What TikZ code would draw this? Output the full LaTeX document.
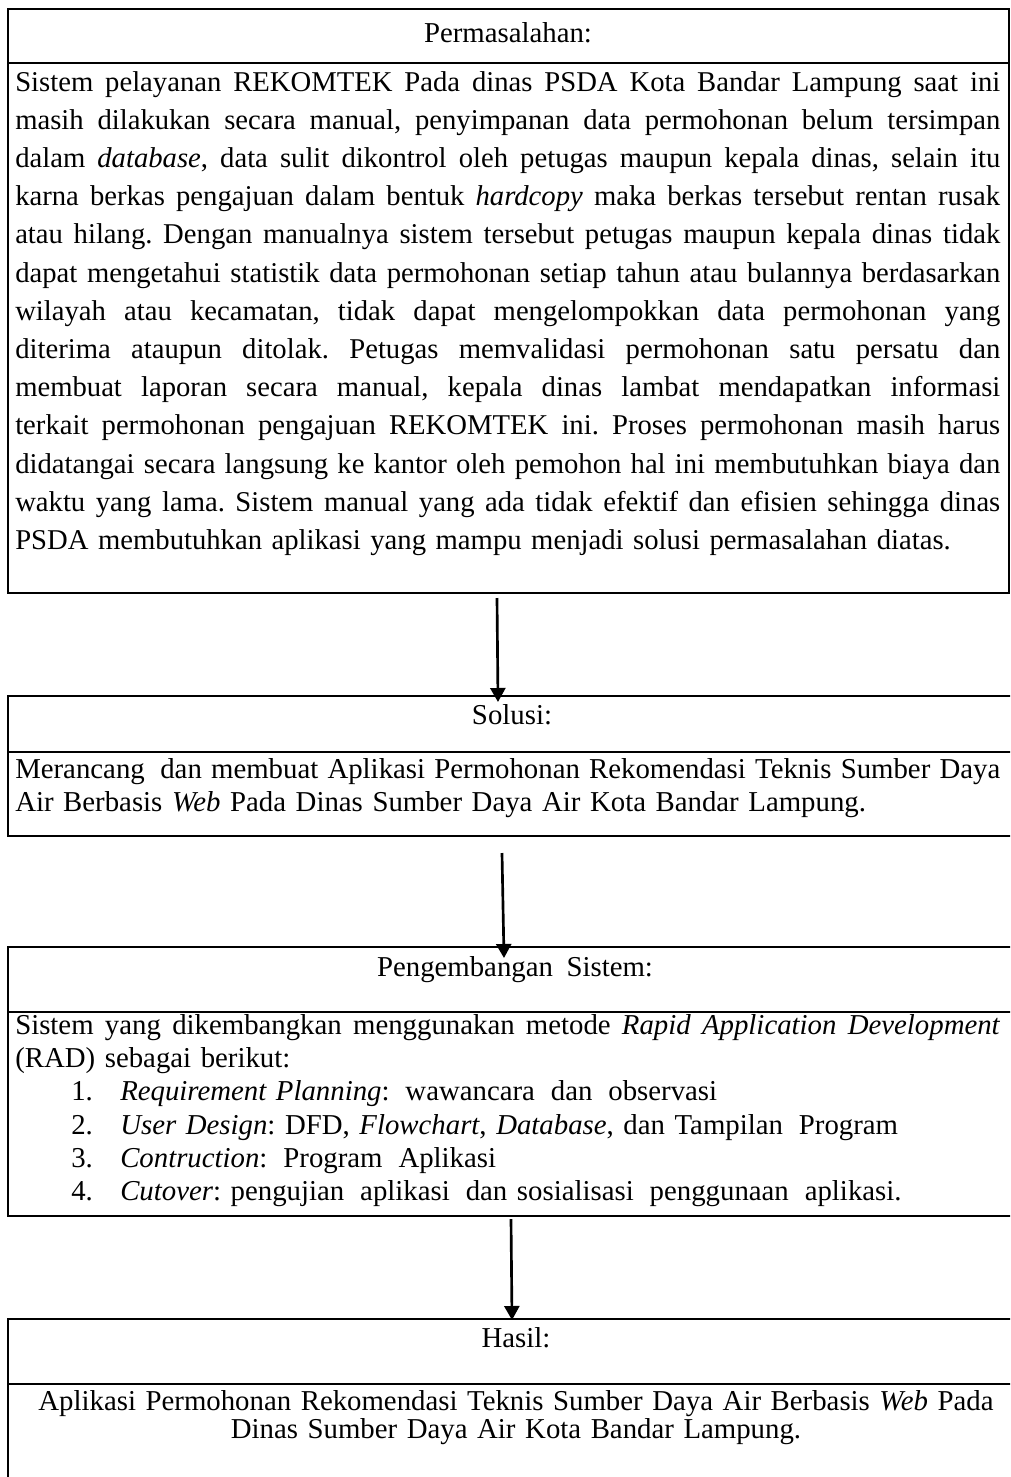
\documentclass[tikz,border=0pt]{standalone}
\usepackage{fontspec}
\setmainfont{Liberation Serif}
\usetikzlibrary{arrows.meta}
\newcommand{\xs}{\hspace{0.22em}}
\newcommand{\jl}[1]{{\spaceskip=0.25em plus 1fil minus 0.06em\relax\xspaceskip=\spaceskip\makebox[738.75pt][s]{#1}}}
\begin{document}
\frenchspacing
\begin{tikzpicture}[x=0.75pt,y=-0.75pt,
  frame/.style={line width=2.2pt},
  divider/.style={line width=1.9pt},
  arr/.style={line width=2pt,-{Triangle[width=11.25pt,length=10.5pt]}},
  hdr/.style={anchor=base,inner sep=0pt,font=\fontsize{21.6pt}{26pt}\selectfont},
  body/.style={anchor=base west,inner sep=0pt,text width=738.75pt,align=left}]
\useasboundingbox (0,0) rectangle (1010,1477);
\begin{scope}
\clip (0,0) rectangle (1010,1477);
% box 1 : Permasalahan
\draw[frame] (8,9) rectangle (1009,593);
\draw[divider] (8,63) -- (1009,63);
% box 2 : Solusi
\draw[frame] (1040,696) -- (8,696) -- (8,836) -- (1040,836);
\draw[divider] (8,752) -- (1040,752);
% box 3 : Pengembangan
\draw[frame] (1040,947) -- (8,947) -- (8,1216) -- (1040,1216);
\draw[divider] (8,1012) -- (1040,1012);
% box 4 : Hasil
\draw[frame] (8,1500) -- (8,1319) -- (1040,1319);
\draw[divider] (8,1384) -- (1040,1384);
\end{scope}

% headers
\node[hdr] (h1) at (508,43) {Permasalahan:};
\node[hdr] (h2) at (512,724) {Solusi:};
\node[hdr] (h3) at (515,976) {Pengembangan\xs{} Sistem:};
\node[hdr] (h4) at (516,1347) {Hasil:};

% Permasalahan body
\node[body,font=\fontsize{21.5pt}{28.65pt}\selectfont] (t1) at (15,91) {%
\jl{Sistem pelayanan REKOMTEK Pada dinas PSDA Kota Bandar Lampung saat ini}\\
\jl{masih dilakukan secara manual, penyimpanan data permohonan belum tersimpan}\\
\jl{dalam \textit{database}, data sulit dikontrol oleh petugas maupun kepala dinas, selain itu}\\
\jl{karna berkas pengajuan dalam bentuk \textit{hardcopy} maka berkas tersebut rentan rusak}\\
\jl{atau hilang. Dengan manualnya sistem tersebut petugas maupun kepala dinas tidak}\\
\jl{dapat mengetahui statistik data permohonan setiap tahun atau bulannya berdasarkan}\\
\jl{wilayah atau kecamatan, tidak dapat mengelompokkan data permohonan yang}\\
\jl{diterima ataupun ditolak. Petugas memvalidasi permohonan satu persatu dan}\\
\jl{membuat laporan secara manual, kepala dinas lambat mendapatkan informasi}\\
\jl{terkait permohonan pengajuan REKOMTEK ini. Proses permohonan masih harus}\\
\jl{didatangai secara langsung ke kantor oleh pemohon hal ini membutuhkan biaya dan}\\
\jl{waktu yang lama. Sistem manual yang ada tidak efektif dan efisien sehingga dinas}\\
PSDA membutuhkan aplikasi yang mampu menjadi solusi permasalahan diatas.};

% Solusi body
\node[body,font=\fontsize{21.6pt}{24.75pt}\selectfont] (t2) at (15,778) {%
\jl{Merancang\xs{} dan membuat Aplikasi Permohonan Rekomendasi Teknis Sumber Daya}\\
Air Berbasis \textit{Web} Pada Dinas Sumber Daya Air Kota Bandar Lampung.};

% Pengembangan body
\node[body,font=\fontsize{21.6pt}{25pt}\selectfont] (t3) at (15,1034) {%
\jl{Sistem yang dikembangkan menggunakan metode \textit{Rapid Application Development}}\\
(RAD) sebagai berikut:\\
\hspace*{42pt}\makebox[36.75pt][l]{1.}\textit{Requirement Planning}:\xs{} wawancara\xs{} dan\xs{} observasi\\
\hspace*{42pt}\makebox[36.75pt][l]{2.}\textit{User Design}: DFD, \textit{Flowchart}, \textit{Database}, dan Tampilan\xs{} Program\\
\hspace*{42pt}\makebox[36.75pt][l]{3.}\textit{Contruction}:\xs{} Program\xs{} Aplikasi\\
\hspace*{42pt}\makebox[36.75pt][l]{4.}\textit{Cutover}: pengujian\xs{} aplikasi\xs{} dan sosialisasi\xs{} penggunaan\xs{} aplikasi.};

% Hasil body
\node[anchor=base,inner sep=0pt,text width=738.75pt,align=center,font=\fontsize{21.6pt}{21.5pt}\selectfont] (t4) at (516,1410) {%
Aplikasi Permohonan Rekomendasi Teknis Sumber Daya Air Berbasis \textit{Web} Pada\\
Dinas Sumber Daya Air Kota Bandar Lampung.};

% connectors
\coordinate (a1s) at (497,598);
\coordinate (a1e) at (498,702);
\coordinate (a2s) at (502,853);
\coordinate (a2e) at (504,958);
\coordinate (a3s) at (511,1219);
\coordinate (a3e) at (512,1320);
\draw[arr] (a1s) -- (a1e);
\draw[arr] (a2s) -- (a2e);
\draw[arr] (a3s) -- (a3e);
\end{tikzpicture}
\end{document}
